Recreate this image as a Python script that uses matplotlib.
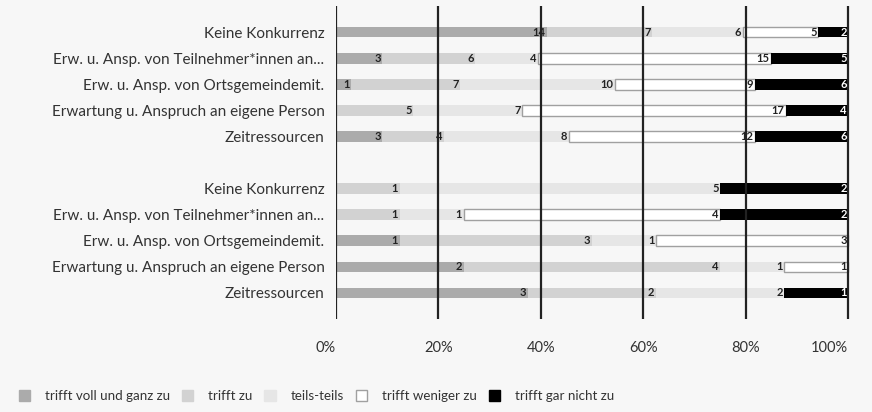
import matplotlib
matplotlib.use('Agg')
import matplotlib.pyplot as plt
import numpy as np

plt.rcParams['font.family'] = ['Lato', 'DejaVu Sans']

# Categories (two blocks of five items, blank row between them)
items = [
    'Keine Konkurrenz',
    'Erw. u. Ansp. von Teilnehmer*innen an...',
    'Erw. u. Ansp. von Ortsgemeindemit.',
    'Erwartung u. Anspruch an eigene Person',
    'Zeitressourcen',
]
levels = ['trifft voll und ganz zu', 'trifft zu', 'teils-teils',
          'trifft weniger zu', 'trifft gar nicht zu']

# counts per item, columns follow `levels`
block1 = [
    [14, 7, 6, 5, 2],
    [3, 6, 4, 15, 5],
    [1, 7, 10, 9, 6],
    [0, 5, 7, 17, 4],
    [3, 4, 8, 12, 6],
]
block2 = [
    [0, 1, 5, 0, 2],
    [0, 1, 1, 4, 2],
    [1, 3, 1, 3, 0],
    [2, 4, 1, 1, 0],
    [3, 2, 2, 0, 1],
]

colors = ['#ababab', '#d2d2d2', '#e6e6e6', '#ffffff', '#000000']
edges = ['none', 'none', 'none', '#a0a0a0', 'none']
text_cols = ['#222222', '#222222', '#222222', '#222222', '#ffffff']
bg = '#f7f7f7'

fig = plt.figure(figsize=(8.72, 4.12), dpi=100, facecolor=bg)
ax = fig.add_axes([0.385, 0.226, 0.5895, 0.759], facecolor=bg)

rows = block1 + block2
ypos = list(range(5)) + list(range(6, 11))
labels = items + items

for y, counts in zip(ypos, rows):
    counts = np.array(counts, dtype=float)
    share = counts / counts.sum() * 100
    left = 0.0
    for k in range(5):
        if counts[k] > 0:
            ax.barh(y, share[k], left=left, height=0.4, color=colors[k],
                    edgecolor=edges[k], linewidth=1.0, zorder=2)
            ax.text(left + share[k] - 0.3, y, str(int(counts[k])),
                    ha='right', va='center', fontsize=8, fontweight='bold',
                    color=text_cols[k], zorder=4)
        left += share[k]

for x in range(0, 101, 20):
    ax.axvline(x, color='#222222', lw=1.6, zorder=3)

ax.set_xlim(0, 100.3)
ax.set_ylim(11, -1)
ax.set_yticks(ypos)
ax.set_yticklabels(labels, fontsize=11, color='#333333')
ax.set_xticks(range(0, 101, 20))
xt = ax.set_xticklabels([f'{v}%' for v in range(0, 101, 20)], fontsize=10.5,
                        color='#333333')
xt[0].set_ha('right')
xt[-1].set_ha('right')
ax.tick_params(axis='both', length=0)
ax.tick_params(axis='x', pad=16)
ax.tick_params(axis='y', pad=8)
for s in ax.spines.values():
    s.set_visible(False)

handles = [plt.Rectangle((0, 0), 1, 1, facecolor=c,
                         edgecolor=('#a0a0a0' if c == '#ffffff' else c))
           for c in colors]
fig.legend(handles, levels, loc='lower left', bbox_to_anchor=(0.008, -0.005),
           ncol=5, frameon=False, fontsize=9.6, handlelength=0.85,
           handleheight=1.0, columnspacing=0.9, handletextpad=1.1,
           labelcolor='#333333')

fig.savefig('out.png', dpi=100, facecolor=bg)
